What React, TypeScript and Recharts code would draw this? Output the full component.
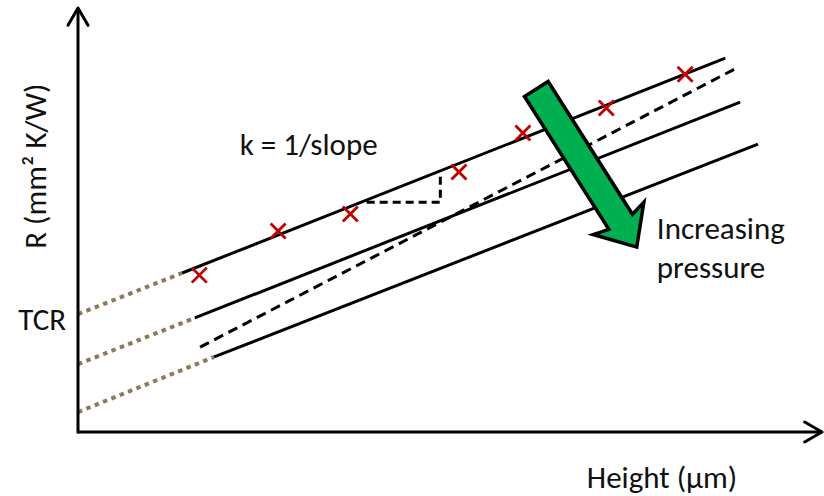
import React from 'react';
import {
  ComposedChart,
  Line,
  Scatter,
  XAxis,
  YAxis,
  ReferenceLine,
  ReferenceDot,
} from 'recharts';

// chart space: x = height, y = R, both 0..10 (arbitrary units, no ticks)
const xAxisSeg = [{ x: 0, y: 0 }, { x: 10, y: 0 }];
const yAxisSeg = [{ x: 0, y: 0 }, { x: 0, y: 10 }];

// fitted lines (solid) and their extrapolations to the R axis (dotted)
const fitLow = [{ x: 1.4, y: 3.75 }, { x: 8.7, y: 8.82 }];
const fitMid = [{ x: 1.57, y: 2.69 }, { x: 8.9, y: 7.78 }];
const fitHigh = [{ x: 1.83, y: 1.77 }, { x: 9.14, y: 6.79 }];
const fitDashed = [{ x: 1.64, y: 2.0 }, { x: 8.86, y: 8.59 }];
const extLow = [{ x: 0, y: 2.78 }, { x: 1.4, y: 3.75 }];
const extMid = [{ x: 0, y: 1.6 }, { x: 1.57, y: 2.69 }];
const extHigh = [{ x: 0, y: 0.47 }, { x: 1.83, y: 1.77 }];

// measured points on the lowest-pressure line
const measured = [
  { x: 1.63, y: 3.7 },
  { x: 2.69, y: 4.74 },
  { x: 3.66, y: 5.14 },
  { x: 5.12, y: 6.13 },
  { x: 5.98, y: 7.05 },
  { x: 7.1, y: 7.64 },
  { x: 8.16, y: 8.44 },
];

// slope triangle
const slopeTri = [
  { x: 3.88, y: 5.42 },
  { x: 4.87, y: 5.42 },
  { x: 4.87, y: 6.16 },
];

// "increasing pressure" arrow, tail -> tip
const pressureArrow = [{ x: 6.16, y: 8.09 }, { x: 7.51, y: 4.36 }];

const font = "Carlito, Lato, 'Open Sans', sans-serif";
const brown = '#8c7a58';

const XMark = (props: any) => {
  const { cx, cy } = props;
  const s = 7.5;
  return (
    <g stroke="#c00000" strokeWidth={2.8}>
      <line x1={cx - s} y1={cy - s} x2={cx + s} y2={cy + s} />
      <line x1={cx - s} y1={cy + s} x2={cx + s} y2={cy - s} />
    </g>
  );
};

const AxisArrow = (props: any) => {
  const { x1, y1, x2, y2 } = props;
  const a = Math.atan2(y2 - y1, x2 - x1);
  const len = 20;
  const spread = Math.PI / 6;
  const p1 = [x2 - len * Math.cos(a - spread), y2 - len * Math.sin(a - spread)];
  const p2 = [x2 - len * Math.cos(a + spread), y2 - len * Math.sin(a + spread)];
  return (
    <g stroke="#000" strokeWidth={3} fill="none">
      <line x1={x1} y1={y1 + (y1 === y2 ? 0 : 1.5)} x2={x2} y2={y2} />
      <polyline
        points={`${p1[0]},${p1[1]} ${x2},${y2} ${p2[0]},${p2[1]}`}
        strokeLinecap="round"
        strokeLinejoin="round"
      />
    </g>
  );
};

const BlockArrow = (props: any) => {
  const { x1, y1, x2, y2 } = props;
  const dx = x2 - x1;
  const dy = y2 - y1;
  const L = Math.hypot(dx, dy);
  const ux = dx / L;
  const uy = dy / L;
  const nx = -uy;
  const ny = ux;
  const hw = 14;
  const headHw = 30;
  const headLen = 30;
  const nkx = x2 - ux * headLen;
  const nky = y2 - uy * headLen;
  const bx = x2 - ux * (headLen + 4);
  const by = y2 - uy * (headLen + 4);
  const pts = [
    [x1 + nx * hw, y1 + ny * hw],
    [nkx + nx * hw, nky + ny * hw],
    [bx + nx * headHw, by + ny * headHw],
    [x2, y2],
    [bx - nx * headHw, by - ny * headHw],
    [nkx - nx * hw, nky - ny * hw],
    [x1 - nx * hw, y1 - ny * hw],
  ];
  return (
    <polygon
      points={pts.map((p) => p.join(',')).join(' ')}
      fill="#00b050"
      stroke="#000"
      strokeWidth={3.5}
      strokeLinejoin="miter"
    />
  );
};

const textStyle = { fontSize: 31, fill: '#111', fontFamily: font };

export default function App() {
  return (
    <div style={{ position: 'absolute', left: 0, top: 0, background: '#fff' }}>
      <ComposedChart
        width={824}
        height={496}
        margin={{ top: 8, right: 2, bottom: 64, left: 78 }}
        style={{ fontFamily: font }}
      >
        <XAxis type="number" dataKey="x" domain={[0, 10]} hide allowDuplicatedCategory={false} />
        <YAxis type="number" dataKey="y" domain={[0, 10]} hide />

        {/* dotted extrapolations to intercept */}
        {[extLow, extMid, extHigh].map((d, i) => (
          <Line
            key={'ext' + i}
            data={d}
            dataKey="y"
            stroke={brown}
            strokeWidth={4}
            strokeDasharray="4.5 4.5"
            dot={false}
            isAnimationActive={false}
          />
        ))}

        {/* fitted lines */}
        {[fitLow, fitMid, fitHigh].map((d, i) => (
          <Line
            key={'fit' + i}
            data={d}
            dataKey="y"
            stroke="#000"
            strokeWidth={3}
            dot={false}
            isAnimationActive={false}
          />
        ))}
        <Line
          data={fitDashed}
          dataKey="y"
          stroke="#000"
          strokeWidth={3}
          strokeDasharray="10 6"
          dot={false}
          isAnimationActive={false}
        />
        <Line
          data={slopeTri}
          dataKey="y"
          stroke="#000"
          strokeWidth={3}
          strokeDasharray="8 5"
          dot={false}
          isAnimationActive={false}
        />

        <Scatter data={measured} dataKey="y" shape={XMark} isAnimationActive={false} />

        {/* axes with arrow heads */}
        <ReferenceLine segment={xAxisSeg} ifOverflow="visible" shape={AxisArrow} />
        <ReferenceLine segment={yAxisSeg} ifOverflow="visible" shape={AxisArrow} />

        <ReferenceLine segment={pressureArrow} ifOverflow="visible" shape={BlockArrow} />

        {/* annotations */}
        <ReferenceDot
          x={3.1}
          y={6.79}
          r={0}
          ifOverflow="visible"
          label={{ value: 'k = 1/slope', position: 'center', ...textStyle }}
        />
        <ReferenceDot
          x={7.78}
          y={4.8}
          r={0}
          ifOverflow="visible"
          label={{ value: 'Increasing', position: 'right', offset: 0, ...textStyle }}
        />
        <ReferenceDot
          x={7.78}
          y={3.88}
          r={0}
          ifOverflow="visible"
          label={{ value: 'pressure', position: 'right', offset: 0, ...textStyle }}
        />
        <ReferenceDot
          x={-0.48}
          y={2.67}
          r={0}
          ifOverflow="visible"
          label={{ value: 'TCR', position: 'center', ...textStyle }}
        />
        <ReferenceDot
          x={-0.58}
          y={6.27}
          r={0}
          ifOverflow="visible"
          label={{ value: 'R (mm² K/W)', position: 'center', angle: -90, ...textStyle }}
        />
        <ReferenceDot
          x={7.85}
          y={-1.07}
          r={0}
          ifOverflow="visible"
          label={{ value: 'Height (µm)', position: 'center', ...textStyle }}
        />
      </ComposedChart>
    </div>
  );
}
